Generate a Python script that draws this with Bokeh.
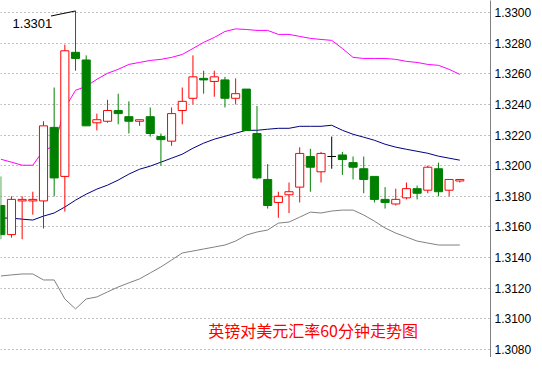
from bokeh.plotting import figure
from bokeh.models import FixedTicker, PrintfTickFormatter, Label, Range1d, ColumnDataSource
from bokeh.core.properties import value
from bokeh.embed import file_html
from bokeh.resources import INLINE

# 60-minute GBP/USD candles (index 0 = leftmost, partly cut)
opens = [1.3174, 1.3155, 1.3177, 1.3177, 1.3177, 1.3225, 1.3193, 1.3274, 1.3269, 1.3228,
         1.3229, 1.3236, 1.3232, 1.3229, 1.3232, 1.3219, 1.3216, 1.3236, 1.3244, 1.3257,
         1.3255, 1.3256, 1.3244, 1.3250, 1.3221, 1.3191, 1.3176, 1.3181, 1.3186, 1.3206,
         1.3196, 1.3206, 1.3207, 1.3202, 1.3198, 1.3193, 1.3178, 1.3175, 1.3179, 1.3185,
         1.3184, 1.3198, 1.3184, 1.3190]
highs = [1.3193, 1.3180, 1.3180, 1.3183, 1.3229, 1.3251, 1.3279, 1.3301, 1.3272, 1.3234,
         1.3243, 1.3247, 1.3242, 1.3230, 1.3238, 1.3221, 1.3238, 1.3251, 1.3272, 1.3262,
         1.3262, 1.3258, 1.3257, 1.3250, 1.3239, 1.3201, 1.3183, 1.3189, 1.3212, 1.3211,
         1.3209, 1.3219, 1.3209, 1.3206, 1.3206, 1.3193, 1.3186, 1.3185, 1.3189, 1.3187,
         1.3200, 1.3202, 1.3191, 1.3191]
lows = [1.3152, 1.3153, 1.3152, 1.3168, 1.3159, 1.3180, 1.3170, 1.3262, 1.3226, 1.3223,
        1.3228, 1.3227, 1.3221, 1.3226, 1.3219, 1.3200, 1.3213, 1.3227, 1.3240, 1.3247,
        1.3245, 1.3238, 1.3240, 1.3223, 1.3191, 1.3172, 1.3166, 1.3169, 1.3176, 1.3183,
        1.3189, 1.3198, 1.3194, 1.3191, 1.3182, 1.3176, 1.3172, 1.3174, 1.3178, 1.3178,
        1.3182, 1.3180, 1.3180, 1.3189]
closes = [1.3155, 1.3178, 1.3178, 1.3178, 1.3226, 1.3192, 1.3275, 1.3270, 1.3226, 1.3230,
          1.3236, 1.3234, 1.3229, 1.3230, 1.3221, 1.3217, 1.3234, 1.3242, 1.3258, 1.3256,
          1.3258, 1.3244, 1.3247, 1.3223, 1.3192, 1.3174, 1.3180, 1.3183, 1.3208, 1.3199,
          1.3208, 1.3206, 1.3204, 1.3199, 1.3191, 1.3178, 1.3176, 1.3178, 1.3185, 1.3182,
          1.3199, 1.3183, 1.3191, 1.3191]

# Bollinger bands
band_upper = [1.32042, 1.32023, 1.32003, 1.32003, 1.32101, 1.32127, 1.32375, 1.32492, 1.32518, 1.32564,
              1.32603, 1.32629, 1.32661, 1.32674, 1.32687, 1.32694, 1.32707, 1.32726, 1.32765, 1.32805,
              1.32837, 1.32876, 1.32893, 1.32889, 1.32883, 1.32883, 1.32857, 1.32857, 1.32844, 1.32831,
              1.32824, 1.32818, 1.32765, 1.32707, 1.32700, 1.32700, 1.32700, 1.32694, 1.32681, 1.32674,
              1.32661, 1.32655, 1.32629, 1.32596]
band_middle = [1.31658, 1.31658, 1.31651, 1.31645, 1.31671, 1.31691, 1.31730, 1.31775, 1.31814, 1.31847,
               1.31873, 1.31906, 1.31945, 1.31977, 1.31997, 1.32023, 1.32049, 1.32075, 1.32114, 1.32147,
               1.32173, 1.32192, 1.32212, 1.32231, 1.32231, 1.32238, 1.32244, 1.32244, 1.32257, 1.32257,
               1.32257, 1.32264, 1.32231, 1.32205, 1.32186, 1.32166, 1.32140, 1.32121, 1.32107, 1.32094,
               1.32081, 1.32062, 1.32049, 1.32036]
band_lower = [1.31280, 1.31287, 1.31293, 1.31293, 1.31254, 1.31254, 1.31130, 1.31065, 1.31130, 1.31143,
              1.31176, 1.31208, 1.31235, 1.31261, 1.31300, 1.31339, 1.31384, 1.31430, 1.31443, 1.31456,
              1.31469, 1.31482, 1.31508, 1.31547, 1.31567, 1.31580, 1.31625, 1.31632, 1.31664, 1.31697,
              1.31691, 1.31704, 1.31710, 1.31710, 1.31678, 1.31638, 1.31593, 1.31560, 1.31534, 1.31508,
              1.31495, 1.31482, 1.31482, 1.31482]

tick_values = [1.3080, 1.3100, 1.3120, 1.3140, 1.3160, 1.3180, 1.3200,
               1.3220, 1.3240, 1.3260, 1.3280, 1.3300]

chart_title = "英镑对美元汇率60分钟走势图"

UP = "#FF0000"
DOWN = "#008000"
FLAT = "#000000"

idx = list(range(len(opens)))
colors = [UP if c > o else (DOWN if c < o else FLAT) for o, c in zip(opens, closes)]
fills = ["#FFFFFF" if c > o else col for o, c, col in zip(opens, closes, colors)]
tops = [max(o, c) for o, c in zip(opens, closes)]
bottoms = [min(o, c) for o, c in zip(opens, closes)]

src = ColumnDataSource(dict(x=idx, high=highs, low=lows, top=tops, bottom=bottoms,
                            color=colors, fill=fills))

p = figure(width=534, height=357, output_backend="svg", toolbar_location=None,
           x_axis_location=None, y_axis_location="right",
           x_range=Range1d(-0.028, 45.876), y_range=Range1d(1.307478, 1.330783),
           min_border_left=0, min_border_top=0, min_border_bottom=0, min_border_right=41,
           background_fill_color="#FFFFFF", border_fill_color="#FFFFFF")
p.outline_line_color = None

yax = p.yaxis[0]
yax.ticker = FixedTicker(ticks=tick_values)
yax.formatter = PrintfTickFormatter(format="%.4f")
yax.axis_line_color = "#808080"
yax.axis_line_width = 1
yax.major_tick_line_color = None
yax.minor_tick_line_color = None
yax.major_tick_out = 0
yax.major_tick_in = 0
yax.major_label_standoff = 4
yax.major_label_text_font = "Liberation Sans"
yax.major_label_text_font_size = "12px"
yax.major_label_text_color = "#000000"

p.xgrid.visible = False
p.ygrid.ticker = FixedTicker(ticks=tick_values)
p.ygrid.grid_line_color = "#808080"
p.ygrid.grid_line_dash = "1 3"
p.ygrid.grid_line_width = 1

# bands
p.line(idx, band_upper, line_color="#FF00FF", line_width=1)
p.line(idx, band_middle, line_color="#000080", line_width=1)
p.line(idx, band_lower, line_color="#808080", line_width=1)

# candles
p.segment(x0="x", y0="low", x1="x", y1="high", line_color="color", line_width=1, source=src)
p.vbar(x="x", width=0.76, top="top", bottom="bottom", fill_color="fill",
       line_color="color", line_width=1, source=src)

# high marker
peak_i = max(idx, key=lambda i: highs[i])
peak = highs[peak_i]
p.segment(x0=[peak_i - 2.3], y0=[peak - 0.00033], x1=[peak_i], y1=[peak],
          line_color="#000000", line_width=1)
p.add_layout(Label(x=peak_i - 5.9, y=peak - 0.00085, text=f"{peak:.4f}",
                   text_font="Liberation Sans", text_font_size="13px",
                   text_color="#000000", text_baseline="middle", text_align="left"))

p.add_layout(Label(x=19.43, y=1.30928, text=chart_title,
                   text_font="Noto Sans CJK SC", text_font_size="16px",
                   text_color="#FF0000", text_baseline="middle", text_align="left"))

open("out.html", "w").write(file_html(p, INLINE))
